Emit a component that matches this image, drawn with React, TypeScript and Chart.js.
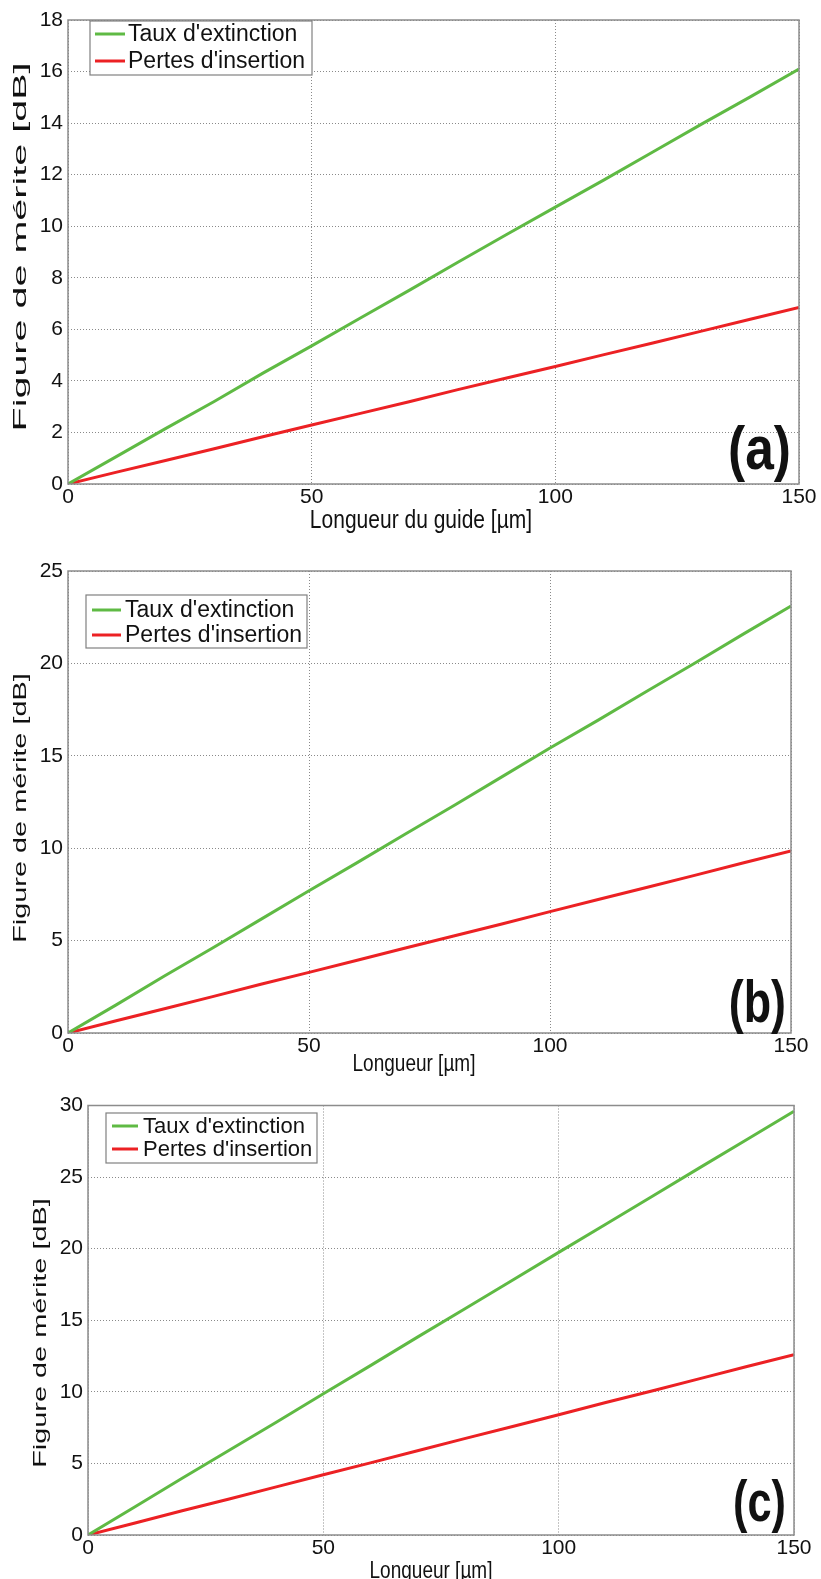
import React, { useEffect, useRef } from "react";
import { Chart, registerables } from "chart.js";

Chart.register(...registerables);

// ---------- data ----------
const lengths = [0, 10, 20, 30, 40, 50, 60, 70, 80, 90, 100, 110, 120, 130, 140, 150];
const seriesNames = ["Taux d'extinction", "Pertes d'insertion"];

const tauxA = [0, 1.07, 2.15, 3.2, 4.3, 5.36, 6.44, 7.51, 8.6, 9.68, 10.74, 11.8, 12.88, 13.96, 15.02, 16.1];
const pertesA = [0, 0.46, 0.91, 1.37, 1.83, 2.29, 2.74, 3.19, 3.66, 4.11, 4.56, 5.02, 5.47, 5.93, 6.39, 6.85];

const tauxB = [0, 1.52, 3.08, 4.6, 6.15, 7.7, 9.22, 10.77, 12.3, 13.86, 15.42, 16.93, 18.48, 20.01, 21.57, 23.1];
const pertesB = [0, 0.66, 1.31, 1.97, 2.64, 3.28, 3.94, 4.6, 5.25, 5.9, 6.57, 7.22, 7.87, 8.53, 9.2, 9.85];

const tauxC = [0, 1.97, 3.96, 5.92, 7.88, 9.87, 11.83, 13.82, 15.78, 17.76, 19.74, 21.7, 23.68, 25.66, 27.62, 29.6];
const pertesC = [0, 0.84, 1.69, 2.52, 3.36, 4.21, 5.04, 5.88, 6.73, 7.56, 8.4, 9.25, 10.08, 10.92, 11.77, 12.6];

const xTicks = [0, 50, 100, 150];
const yTicksA = [0, 2, 4, 6, 8, 10, 12, 14, 16, 18];
const yTicksB = [0, 5, 10, 15, 20, 25];
const yTicksC = [0, 5, 10, 15, 20, 25, 30];

const yTitle = "Figure de mérite [dB]";
const xTitleA = "Longueur du guide [µm]";
const xTitleBC = "Longueur [µm]";
const tags = ["(a)", "(b)", "(c)"];

// ---------- styles ----------
const FONT = "'Liberation Sans', Arial, sans-serif";
const GREEN = "#5fba44";
const RED = "#ec2124";
const FRAME = "#8c8c8c";
const GRID = "#8a8a8a";
const TEXT = "#111111";
const W = 821;

type Panel = {
  top: number;
  height: number;
  plot: { left: number; right: number; top: number; bottom: number };
  xTitle: string;
  xTitleSize: number;
  xTitleX: number;
  xTitleY: number;
  yTitleX: number;
  yTitleY: number;
  yTitleStretch: number;
  yTicks: number[];
  taux: number[];
  pertes: number[];
  legend: { x1: number; y1: number; x2: number; y2: number; lx1: number; lx2: number; tx: number; ly: number[]; size: number };
  tag: string;
  tagX: number;
  tagY: number;
  tagSize: number;
  tagCondense: number;
};

const panels: Panel[] = [
  {
    top: 0,
    height: 545,
    plot: { left: 68, right: 799, top: 20, bottom: 484 },
    xTitle: xTitleA,
    xTitleSize: 21,
    xTitleX: 421,
    xTitleY: 521,
    yTitleX: 21,
    yTitleY: 247,
    yTitleStretch: 2.08,
    yTicks: yTicksA,
    taux: tauxA,
    pertes: pertesA,
    legend: { x1: 90, y1: 21, x2: 312, y2: 75, lx1: 95, lx2: 125, tx: 128, ly: [34, 61], size: 23 },
    tag: tags[0],
    tagX: 791,
    tagY: 469,
    tagSize: 62,
    tagCondense: 0.83,
  },
  {
    top: 545,
    height: 545,
    plot: { left: 68, right: 791, top: 571, bottom: 1033 },
    xTitle: xTitleBC,
    xTitleSize: 19,
    xTitleX: 414,
    xTitleY: 1064,
    yTitleX: 21,
    yTitleY: 808,
    yTitleStretch: 1.52,
    yTicks: yTicksB,
    taux: tauxB,
    pertes: pertesB,
    legend: { x1: 86, y1: 595, x2: 307, y2: 648, lx1: 92, lx2: 121, tx: 125, ly: [610, 635], size: 23 },
    tag: tags[1],
    tagX: 786,
    tagY: 1022,
    tagSize: 59,
    tagCondense: 0.76,
  },
  {
    top: 1090,
    height: 489,
    plot: { left: 88, right: 794, top: 1104, bottom: 1535 },
    xTitle: xTitleBC,
    xTitleSize: 19,
    xTitleX: 431,
    xTitleY: 1571,
    yTitleX: 41,
    yTitleY: 1333,
    yTitleStretch: 1.52,
    yTicks: yTicksC,
    taux: tauxC,
    pertes: pertesC,
    legend: { x1: 106, y1: 1113, x2: 317, y2: 1163, lx1: 112, lx2: 138, tx: 143, ly: [1126, 1149], size: 22 },
    tag: tags[2],
    tagX: 786,
    tagY: 1521,
    tagSize: 57,
    tagCondense: 0.76,
  },
];

function PanelChart({ p }: { p: Panel }) {
  const ref = useRef<HTMLCanvasElement | null>(null);

  useEffect(() => {
    const canvas = ref.current;
    if (!canvas) return;
    const off = p.top;
    const L = p.legend;

    const decor = {
      id: "decor",
      afterDraw(chart: any) {
        const ctx = chart.ctx;
        const a = chart.chartArea;
        ctx.save();
        // frame
        ctx.strokeStyle = FRAME;
        ctx.lineWidth = 1.5;
        ctx.strokeRect(a.left, a.top, a.right - a.left, a.bottom - a.top);

        // axis titles (stretched like the reference)
        ctx.fillStyle = TEXT;
        ctx.textAlign = "center";
        ctx.textBaseline = "middle";
        ctx.save();
        ctx.translate(p.xTitleX, p.xTitleY - off);
        ctx.scale(1, 1.25);
        ctx.font = `${p.xTitleSize}px ${FONT}`;
        ctx.fillText(p.xTitle, 0, 0);
        ctx.restore();

        ctx.save();
        ctx.translate(p.yTitleX, p.yTitleY - off);
        ctx.rotate(-Math.PI / 2);
        ctx.scale(p.yTitleStretch, 1);
        ctx.font = `19px ${FONT}`;
        ctx.fillText(yTitle, 0, 0);
        ctx.restore();

        // legend
        const x1 = L.x1, y1 = L.y1 - off, x2 = L.x2, y2 = L.y2 - off;
        ctx.fillStyle = "#ffffff";
        ctx.fillRect(x1, y1, x2 - x1, y2 - y1);
        ctx.strokeStyle = "#808080";
        ctx.lineWidth = 1.2;
        ctx.strokeRect(x1, y1, x2 - x1, y2 - y1);
        const colors = [GREEN, RED];
        ctx.font = `${L.size}px ${FONT}`;
        ctx.textBaseline = "middle";
        ctx.textAlign = "left";
        seriesNames.forEach((name, i) => {
          const y = L.ly[i] - off;
          ctx.strokeStyle = colors[i];
          ctx.lineWidth = 3;
          ctx.beginPath();
          ctx.moveTo(L.lx1, y);
          ctx.lineTo(L.lx2, y);
          ctx.stroke();
          ctx.fillStyle = TEXT;
          ctx.fillText(name, L.tx, y + 1);
        });

        // panel tag (condensed bold)
        ctx.save();
        ctx.translate(p.tagX, p.tagY - off);
        ctx.scale(p.tagCondense, 1);
        ctx.font = `bold ${p.tagSize}px ${FONT}`;
        ctx.textAlign = "right";
        ctx.textBaseline = "alphabetic";
        ctx.fillStyle = TEXT;
        ctx.fillText(p.tag, 0, 0);
        ctx.restore();
        ctx.restore();
      },
    };

    const chart = new Chart(canvas, {
      type: "line",
      data: {
        labels: lengths,
        datasets: [
          {
            label: seriesNames[0],
            data: lengths.map((x, i) => ({ x, y: p.taux[i] })),
            borderColor: GREEN,
            borderWidth: 3,
            pointRadius: 0,
            tension: 0,
          },
          {
            label: seriesNames[1],
            data: lengths.map((x, i) => ({ x, y: p.pertes[i] })),
            borderColor: RED,
            borderWidth: 3,
            pointRadius: 0,
            tension: 0,
          },
        ],
      },
      options: {
        animation: false,
        responsive: false,
        devicePixelRatio: 1,
        layout: {
          padding: {
            left: 0,
            top: p.plot.top - p.top,
            right: W - p.plot.right,
            bottom: 0,
          },
        },
        plugins: {
          legend: { display: false },
          tooltip: { enabled: false },
        },
        scales: {
          x: {
            type: "linear",
            min: 0,
            max: 150,
            afterBuildTicks: (s: any) => {
              s.ticks = xTicks.map((v) => ({ value: v }));
            },
            afterFit: (s: any) => {
              s.height = p.top + p.height - p.plot.bottom;
            },
            grid: { color: GRID, lineWidth: 1, drawTicks: false },
            border: { display: false, dash: [1, 2] },
            ticks: {
              color: TEXT,
              padding: 3,
              font: { family: FONT, size: 21, lineHeight: 1 },
              maxRotation: 0,
              autoSkip: false,
            },
            title: { display: false },
          },
          y: {
            type: "linear",
            min: 0,
            max: p.yTicks[p.yTicks.length - 1],
            afterBuildTicks: (s: any) => {
              s.ticks = p.yTicks.map((v) => ({ value: v }));
            },
            afterFit: (s: any) => {
              s.width = p.plot.left;
            },
            grid: { color: GRID, lineWidth: 1, drawTicks: false },
            border: { display: false, dash: [1, 2] },
            ticks: {
              color: TEXT,
              padding: 5,
              font: { family: FONT, size: 21, lineHeight: 1 },
              autoSkip: false,
            },
            title: { display: false },
          },
        },
      },
      plugins: [decor],
    } as any);

    return () => chart.destroy();
  }, [p]);

  return (
    <div style={{ position: "absolute", left: 0, top: p.top, width: W, height: p.height }}>
      <canvas ref={ref} width={W} height={p.height} style={{ display: "block", width: W, height: p.height }} />
    </div>
  );
}

export default function App() {
  return (
    <div style={{ position: "absolute", left: 0, top: 0, width: W, height: 1579, background: "#ffffff" }}>
      {panels.map((p, i) => (
        <PanelChart key={i} p={p} />
      ))}
    </div>
  );
}
